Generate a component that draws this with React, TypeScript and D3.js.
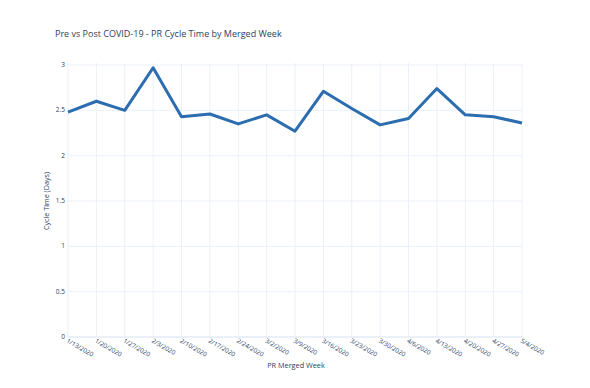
import React from "react";
import * as d3 from "d3";

const weeks = ["1/13/2020","1/20/2020","1/27/2020","2/3/2020","2/10/2020","2/17/2020","2/24/2020","3/2/2020","3/9/2020","3/16/2020","3/23/2020","3/30/2020","4/6/2020","4/13/2020","4/20/2020","4/27/2020","5/4/2020"];
const cycleTime = [2.48,2.60,2.50,2.97,2.43,2.46,2.35,2.45,2.27,2.71,2.52,2.34,2.41,2.74,2.45,2.43,2.36];
const yTicks = [0,0.5,1,1.5,2,2.5,3];

const W = 590, H = 388;
const left = 68, right = 522, top = 65, bottom = 337;

export default function App() {
  const x = d3.scalePoint<string>().domain(weeks).range([left, right]);
  const y = d3.scaleLinear().domain([0, 3]).range([bottom, top]);
  const line = d3.line<number>().x((_, i) => x(weeks[i])!).y((d) => y(d));
  const font = "'Open Sans', 'Noto Sans', sans-serif";
  return (
    <svg width={W} height={H} style={{ position: "absolute", left: 0, top: 0, background: "#fff" }} fontFamily={font}>
      {weeks.map((w) => (
        <line key={w} x1={x(w)} x2={x(w)} y1={top - 2} y2={bottom} stroke="#EBF0F8" strokeWidth={1} />
      ))}
      {yTicks.map((t) => (
        <line key={t} x1={left} x2={right} y1={y(t)} y2={y(t)} stroke="#EBF0F8" strokeWidth={t === 0 ? 2 : 1} />
      ))}
      {yTicks.map((t) => (
        <text key={"l" + t} x={left - 3} y={y(t) + 2} textAnchor="end" fontSize={6.5} fill="#2a3f5f">{t}</text>
      ))}
      {weeks.map((w) => (
        <text key={"x" + w} transform={`translate(${x(w)! - 2},${bottom + 5}) rotate(30)`} fontSize={6.3} fill="#2a3f5f">{w}</text>
      ))}
      <path d={line(cycleTime)!} fill="none" stroke="#2c6db0" strokeWidth={3} strokeLinejoin="round" />
      <text x={55} y={37} fontSize={9} fill="#2a3f5f">Pre vs Post COVID-19 - PR Cycle Time by Merged Week</text>
      <text transform={`translate(49,${(top + bottom) / 2}) rotate(-90)`} textAnchor="middle" fontSize={7.2} fill="#2a3f5f">Cycle Time (Days)</text>
      <text x={296} y={368} textAnchor="middle" fontSize={7.3} fill="#2a3f5f">PR Merged Week</text>
    </svg>
  );
}
